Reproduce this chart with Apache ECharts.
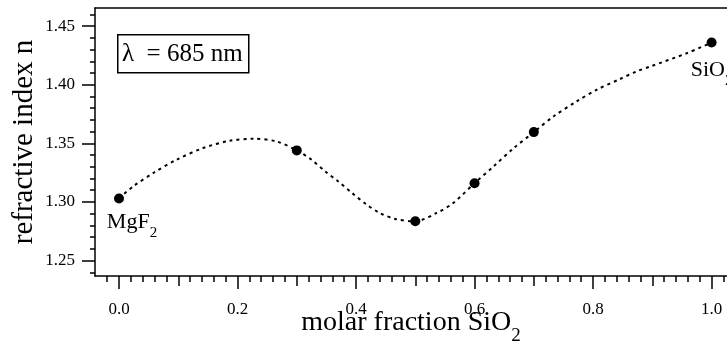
<!DOCTYPE html>
<html>
<head>
<meta charset="utf-8">
<script src="https://cdn.jsdelivr.net/npm/echarts@6/dist/echarts.min.js"></script>
<style>
  html, body { margin: 0; padding: 0; background: #fff; }
  #chart { width: 727px; height: 346px; }
</style>
</head>
<body>
<div id="chart"></div>
<script>
// measured points
const fracX = [0.0, 0.3, 0.5, 0.6, 0.7, 1.0];
const indexN = [1.303, 1.344, 1.2835, 1.316, 1.3596, 1.436];

// dotted guide curve
const curveX = [0, 0.024, 0.058, 0.097, 0.142, 0.187, 0.227, 0.266, 0.3, 0.325, 0.348,
                0.37, 0.393, 0.418, 0.44, 0.466, 0.5, 0.536, 0.564, 0.6, 0.632, 0.665,
                0.7, 0.733, 0.772, 0.806, 0.845, 0.873, 0.896, 0.958, 1.0];
const curveN = [1.303, 1.3133, 1.3247, 1.336, 1.346, 1.3522, 1.3539, 1.3516, 1.344, 1.336, 1.326,
                1.3175, 1.3077, 1.2977, 1.2906, 1.2855, 1.2835, 1.2906, 1.2991, 1.316, 1.3303, 1.3455,
                1.3596, 1.3729, 1.3857, 1.3957, 1.4048, 1.4113, 1.4155, 1.4269, 1.436];

const xLabelTicks = [0, 0.2, 0.4, 0.6, 0.8, 1.0];
const xMidTicks = [0.1, 0.3, 0.5, 0.7, 0.9];
const yLabelTicks = [1.25, 1.30, 1.35, 1.40, 1.45];

const xMinor = [];
for (let i = -1; i <= 51; i++) xMinor.push(Math.round(i * 2) / 100);
const yMinor = [];
for (let i = 124; i <= 146; i++) yMinor.push(i / 100);

const FONT = 'Liberation Serif';
const xMin = -0.0405, xMax = 1.026;
const yMin = 1.2368, yMax = 1.4655;

const myChart = echarts.init(document.getElementById('chart'), null, {renderer: 'canvas'});

const pointData = fracX.map((x, i) => {
    const item = {value: [x, indexN[i]]};
    if (i === 0) {
        item.label = {show: true, position: 'bottom', distance: 5, offset: [13, 0],
            formatter: '{n|MgF}{s|2}'};
    }
    if (i === fracX.length - 1) {
        item.label = {show: true, position: 'bottom', distance: 9, offset: [0, 0],
            formatter: '{n|SiO}{s|2}'};
    }
    return item;
});

const subRich = {
    n: {fontFamily: FONT, fontSize: 22, color: '#000', lineHeight: 28},
    s: {fontFamily: FONT, fontSize: 15, color: '#000', lineHeight: 15, verticalAlign: 'bottom', padding: [0, 0, -4, 0]}
};

const tickStyle = {color: '#000', width: 1.5};

const plainAxis = (extra) => Object.assign({
    type: 'value', min: xMin, max: xMax, position: 'bottom',
    axisLine: {show: false, onZero: false}, splitLine: {show: false},
    axisLabel: {show: false}
}, extra);

myChart.setOption({
    animation: false,
    backgroundColor: '#fff',
    grid: {left: 95, right: 0, top: 8, bottom: 70, containLabel: false, outerBoundsMode: 'none'},
    xAxis: [
        {
            type: 'value', min: xMin, max: xMax, position: 'bottom',
            name: '{n|molar fraction SiO}{s|2}',
            nameLocation: 'middle', nameGap: 30, nameMoveOverlap: false,
            nameTextStyle: {
                rich: {
                    n: {fontFamily: FONT, fontSize: 28, color: '#000', lineHeight: 34},
                    s: {fontFamily: FONT, fontSize: 19, color: '#000', lineHeight: 19, verticalAlign: 'bottom', padding: [0, 0, -6, 0]}
                }
            },
            axisLine: {onZero: false, lineStyle: {color: '#000', width: 1.5}},
            axisTick: {customValues: xLabelTicks, length: 13, lineStyle: tickStyle},
            axisLabel: {customValues: xLabelTicks, margin: 25, fontFamily: FONT, fontSize: 17, color: '#000',
                formatter: (v) => v.toFixed(1)},
            splitLine: {show: false}
        },
        plainAxis({axisTick: {customValues: xMidTicks, length: 10, lineStyle: tickStyle}}),
        plainAxis({axisTick: {customValues: xMinor, length: 6, lineStyle: tickStyle}}),
        {
            type: 'value', min: xMin, max: xMax, position: 'top',
            axisLine: {onZero: false, lineStyle: {color: '#000', width: 1.5}},
            axisTick: {show: false}, axisLabel: {show: false}, splitLine: {show: false}
        }
    ],
    yAxis: [
        {
            type: 'value', min: yMin, max: yMax, position: 'left',
            name: 'refractive index n',
            nameLocation: 'middle', nameGap: 56, nameRotate: 90, nameMoveOverlap: false,
            nameTextStyle: {fontFamily: FONT, fontSize: 29, color: '#000'},
            axisLine: {onZero: false, lineStyle: {color: '#000', width: 1.5}},
            axisTick: {customValues: yLabelTicks, length: 13, lineStyle: tickStyle},
            axisLabel: {customValues: yLabelTicks, margin: 20, fontFamily: FONT, fontSize: 17, color: '#000',
                formatter: (v) => v.toFixed(2)},
            splitLine: {show: false}
        },
        {
            type: 'value', min: yMin, max: yMax, position: 'left',
            axisLine: {show: false, onZero: false},
            axisTick: {customValues: yMinor, length: 5, lineStyle: tickStyle},
            axisLabel: {show: false}, splitLine: {show: false}
        }
    ],
    graphic: [
        {
            type: 'group', left: 117, top: 34,
            children: [
                {type: 'rect', shape: {x: 0.75, y: 0.75, width: 131, height: 38},
                    style: {fill: '#fff', stroke: '#000', lineWidth: 1.5}},
                {type: 'text', x: 5, y: 20,
                    style: {text: 'λ  = 685 nm', font: '25px "Liberation Serif"', fill: '#000',
                        verticalAlign: 'middle'}}
            ]
        }
    ],
    series: [
        {
            type: 'line',
            data: curveX.map((x, i) => [x, curveN[i]]),
            smooth: 0.3,
            showSymbol: false,
            lineStyle: {color: '#000', width: 2, type: [3, 4]},
            z: 2
        },
        {
            type: 'scatter',
            data: pointData,
            symbol: 'circle',
            symbolSize: 10,
            itemStyle: {color: '#000', opacity: 1},
            label: {rich: subRich, color: '#000'},
            emphasis: {disabled: true},
            z: 3
        }
    ]
});
</script>
</body>
</html>
